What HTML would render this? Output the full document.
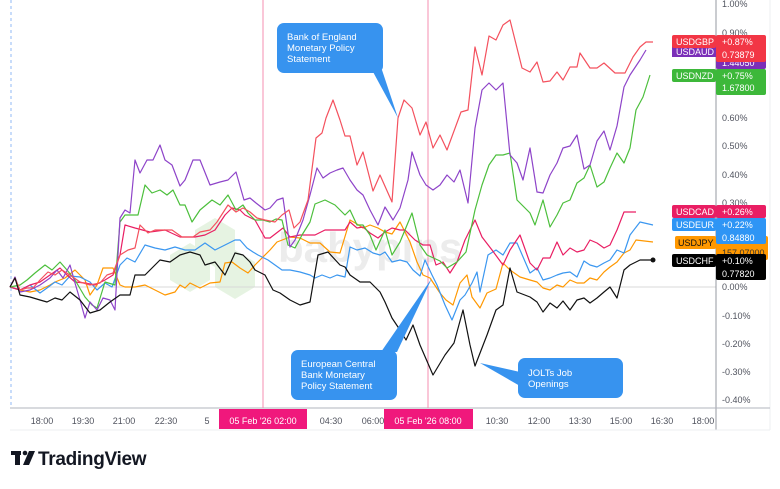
<!DOCTYPE html>
<html><head><meta charset="utf-8"><style>
body{margin:0;background:#fff;width:780px;height:484px;overflow:hidden;font-family:"Liberation Sans",sans-serif;}
svg text{font-family:"Liberation Sans",sans-serif;}
</style></head><body>
<svg width="780" height="484" viewBox="0 0 780 484" xmlns="http://www.w3.org/2000/svg">
<rect width="780" height="484" fill="#fff"/>
<g opacity="0.45">
<polygon points="195,230 215,218 235,230 235,255 215,267 195,255" fill="#c8e6c0"/>
<polygon points="170,255 190,243 210,255 210,280 190,292 170,280" fill="#c8e6c0"/>
<polygon points="215,262 235,250 255,262 255,287 235,299 215,287" fill="#c8e6c0"/>
</g>
<text x="278" y="262" font-size="42" font-weight="bold" fill="#ececec">babypips</text>
<line x1="10" y1="287" x2="716" y2="287" stroke="#d8d8d8" stroke-width="1"/>
<line x1="716" y1="0" x2="716" y2="430" stroke="#9598a1" stroke-width="1"/>
<line x1="770" y1="0" x2="770" y2="430" stroke="#eceff2" stroke-width="1"/>
<line x1="10" y1="408" x2="770" y2="408" stroke="#b2b5be" stroke-width="1"/>
<line x1="10" y1="430" x2="770" y2="430" stroke="#eceff2" stroke-width="1"/>
<line x1="11" y1="0" x2="11" y2="408" stroke="#4a8df0" stroke-width="1" stroke-dasharray="3,3" opacity="0.6"/>
<line x1="263" y1="0" x2="263" y2="408" stroke="#f48fb1" stroke-width="1"/>
<line x1="428" y1="0" x2="428" y2="408" stroke="#f48fb1" stroke-width="1"/>
<g font-size="9" fill="#50535e">
<text x="722" y="7">1.00%</text><text x="722" y="36">0.90%</text>
<text x="722" y="121">0.60%</text><text x="722" y="149">0.50%</text>
<text x="722" y="178">0.40%</text><text x="722" y="206">0.30%</text>
<text x="722" y="290">0.00%</text><text x="722" y="319">-0.10%</text>
<text x="722" y="347">-0.20%</text><text x="722" y="375">-0.30%</text>
<text x="722" y="403">-0.40%</text>
</g>
<g font-size="9" fill="#50535e" text-anchor="middle">
<text x="42" y="424">18:00</text><text x="83" y="424">19:30</text><text x="124" y="424">21:00</text>
<text x="166" y="424">22:30</text><text x="207" y="424">5</text>
<text x="331" y="424">04:30</text><text x="373" y="424">06:00</text>
<text x="497" y="424">10:30</text><text x="539" y="424">12:00</text><text x="580" y="424">13:30</text>
<text x="621" y="424">15:00</text><text x="662" y="424">16:30</text><text x="703" y="424">18:00</text>
</g>
<rect x="219" y="409" width="88" height="20" fill="#f0187c"/>
<text x="263" y="424" font-size="9" fill="#fff" text-anchor="middle">05 Feb '26   02:00</text>
<rect x="384" y="409" width="89" height="20" fill="#f0187c"/>
<text x="428" y="424" font-size="9" fill="#fff" text-anchor="middle">05 Feb '26   08:00</text>
<g fill="none" stroke-width="1.2" stroke-linejoin="round">
<polyline stroke="#ff9800" points="10,287 20,290 30,292 40,290 50,285 55,282 65,278 75,270 85,280 90,295 97,285 103,268 113,268 120,285 125,287 135,287 145,285 155,290 165,295 175,292 180,285 185,288 190,283 200,288 210,283 220,282 225,263 232,262 240,268 248,273 255,265 262,258 270,250 277,242 290,237 300,238 310,243 320,243 330,252 340,253 350,220 357,224 363,228 370,225 378,228 385,232 392,234 400,222 410,242 417,262 423,275 430,278 440,293 446,300 453,305 460,283 467,275 472,297 480,308 487,293 496,289 503,263 510,270 520,277 530,280 537,282 543,288 550,290 557,285 563,287 570,280 577,283 584,283 590,278 597,280 604,272 610,267 617,262 624,253 630,250 636,240 653,242"/>
<polyline stroke="#3b97f0" points="10,287 20,290 30,285 40,293 47,288 55,282 62,285 70,276 80,277 90,282 97,290 105,283 112,287 120,265 127,258 135,262 145,245 155,248 165,250 175,247 185,250 195,250 205,243 215,250 225,245 235,240 240,240 247,248 253,252 258,255 268,260 275,265 282,270 290,270 300,272 310,275 315,278 322,275 330,278 337,275 345,277 350,247 357,250 365,248 373,253 380,255 385,252 392,262 400,260 407,262 413,270 420,276 425,260 432,275 437,285 445,305 452,320 460,300 465,295 472,283 477,272 480,292 488,255 496,250 503,255 510,243 517,243 530,273 537,268 543,280 550,278 557,275 563,273 570,272 577,277 584,261 590,265 597,267 604,263 610,260 617,250 624,253 630,235 640,222 653,225"/>
<polyline stroke="#e91e63" points="10,287 20,290 30,285 40,282 50,275 60,268 67,275 75,282 85,283 95,285 105,280 113,275 120,255 125,225 135,228 150,232 165,230 180,237 195,237 205,235 215,230 225,215 232,208 240,210 245,215 255,220 265,238 270,238 283,228 290,237 300,235 315,235 325,230 335,230 345,230 350,222 357,228 363,227 370,233 378,238 385,232 392,228 400,230 405,230 415,240 423,245 430,245 436,265 443,262 450,273 457,262 465,240 475,220 482,237 492,250 503,265 510,250 520,235 530,263 537,270 543,258 550,258 557,242 563,255 570,248 577,252 584,250 590,240 597,243 604,248 610,245 617,230 624,212 636,212"/>
<polyline stroke="#4cbf3c" points="10,287 20,285 27,280 35,273 45,265 52,270 60,262 67,270 75,280 85,297 92,305 97,308 105,282 115,285 120,222 125,215 138,215 145,185 152,193 160,190 167,195 173,190 180,205 185,205 192,222 200,210 206,205 212,200 220,205 228,195 236,210 243,205 248,213 255,220 263,220 270,222 276,219 282,220 288,245 295,248 302,235 310,222 315,204 325,200 335,205 345,215 350,210 357,225 363,225 370,235 376,250 385,230 392,255 400,242 412,213 420,245 427,255 440,261 447,268 457,262 466,252 475,210 482,185 489,165 496,155 503,155 510,153 517,200 530,213 535,225 543,200 550,227 557,215 563,203 570,200 577,183 584,178 590,165 597,187 604,182 610,168 617,153 624,163 630,148 636,110 643,97 650,75"/>
<polyline stroke="#8e44c9" points="10,287 15,277 20,292 30,290 40,285 50,278 57,270 63,278 70,265 75,283 80,300 85,318 90,302 97,310 103,298 110,300 115,310 120,218 125,210 130,213 135,160 140,173 147,160 153,160 160,145 165,160 172,165 180,186 185,180 193,160 200,160 210,185 220,182 228,180 236,172 244,200 250,198 256,203 265,210 270,208 277,200 283,198 290,247 295,240 303,220 310,195 317,168 323,178 330,173 337,170 343,168 350,180 357,190 363,195 370,210 378,225 385,207 393,220 400,208 408,180 412,152 420,175 426,185 433,190 440,185 447,175 454,182 460,170 468,203 475,128 482,90 489,83 496,90 503,83 510,155 517,163 523,180 530,148 537,192 543,193 550,175 557,163 563,148 570,146 577,135 584,169 590,165 597,141 604,131 610,150 617,126 624,87 630,75 640,60 646,50"/>
<polyline stroke="#f4515e" points="10,287 15,278 20,290 27,288 33,288 40,280 48,272 55,275 62,270 70,275 80,282 90,285 100,283 107,275 113,273 120,255 128,250 135,248 140,225 148,233 155,230 163,230 172,230 182,237 193,237 200,232 210,230 217,222 228,205 236,212 243,208 250,212 257,218 265,220 275,222 282,215 289,210 294,228 300,222 308,200 316,138 322,133 326,118 333,100 340,120 345,136 350,136 357,165 363,152 373,191 380,175 392,202 398,118 404,100 412,108 420,135 426,122 433,148 440,135 447,150 461,112 468,110 475,47 482,75 489,36 496,40 503,25 510,20 522,68 530,72 537,62 543,82 550,81 557,72 563,80 570,67 577,67 580,53 590,68 597,68 604,63 615,73 625,73 633,57 640,47 646,42 653,42"/>
<polyline stroke="#111" points="10,287 15,278 20,295 30,297 40,300 47,302 55,298 62,300 70,292 80,300 90,313 100,310 110,302 120,295 130,295 135,275 145,275 160,260 170,262 180,255 190,252 200,255 205,265 215,262 225,275 235,253 243,255 250,262 255,270 265,275 273,290 280,293 290,300 300,305 310,302 318,255 328,252 340,265 345,267 350,275 360,282 370,282 380,292 385,302 392,318 400,330 406,340 413,325 420,345 433,375 445,355 454,343 463,310 470,345 475,366 487,335 496,310 503,305 510,268 517,292 530,297 537,302 543,312 550,303 557,308 563,301 570,310 577,300 584,298 590,303 597,298 604,292 610,287 617,298 624,270 630,265 640,260 653,260"/>
</g>
<circle cx="653" cy="260" r="2.5" fill="#111"/>
<g fill="#3793ef">
<rect x="277" y="23" width="106" height="50" rx="7"/>
<polygon points="372,70 382,70 398,118"/>
<rect x="291" y="350" width="106" height="50" rx="7"/>
<polygon points="381,352 397,352 432,278"/>
<rect x="518" y="358" width="105" height="40" rx="7"/>
<polygon points="520,372 520,386 480,363"/>
</g>
<g font-size="9.5" fill="#fff">
<text x="287" y="40">Bank of England</text><text x="287" y="51">Monetary Policy</text><text x="287" y="62">Statement</text>
<text x="301" y="367">European Central</text><text x="301" y="378">Bank Monetary</text><text x="301" y="389">Policy Statement</text>
<text x="528" y="376">JOLTs Job</text><text x="528" y="387">Openings</text>
</g>
<g font-size="9" fill="#fff">
<rect x="672" y="45" width="44" height="12" fill="#7b2fb8"/><rect x="716" y="45" width="50" height="24" rx="2" fill="#7b2fb8"/>
<text x="676" y="55">USDAUD</text><text x="722" y="66">1.44050</text>
<rect x="672" y="35" width="44" height="13" rx="2" fill="#f23645"/><rect x="716" y="35" width="50" height="27" rx="2" fill="#f23645"/>
<text x="676" y="45">USDGBP</text><text x="722" y="45">+0.87%</text><text x="722" y="58">0.73879</text>
<rect x="672" y="69" width="44" height="13" rx="2" fill="#3db83a"/><rect x="716" y="69" width="50" height="26" rx="2" fill="#3db83a"/>
<text x="676" y="79">USDNZD</text><text x="722" y="79">+0.75%</text><text x="722" y="91">1.67800</text>
<rect x="675" y="236" width="41" height="13" rx="2" fill="#ff9800"/><rect x="716" y="236" width="52" height="24" rx="2" fill="#ff9800"/>
<text x="678" y="246" fill="#111">USDJPY</text><text x="722" y="256" fill="#333">157.07000</text>
<rect x="672" y="205" width="44" height="13" rx="2" fill="#e91e63"/><rect x="716" y="205" width="50" height="13" rx="2" fill="#e91e63"/>
<text x="676" y="215">USDCAD</text><text x="722" y="215">+0.26%</text>
<rect x="672" y="218" width="44" height="13" rx="2" fill="#2e95f5"/><rect x="716" y="218" width="50" height="26" rx="2" fill="#2e95f5"/>
<text x="676" y="228">USDEUR</text><text x="722" y="228">+0.22%</text><text x="722" y="241">0.84880</text>
<rect x="672" y="254" width="44" height="13" rx="2" fill="#000"/><rect x="716" y="254" width="50" height="26" rx="2" fill="#000"/>
<text x="676" y="264">USDCHF</text><text x="722" y="264">+0.10%</text><text x="722" y="277">0.77820</text>
</g>
<g fill="#131722">
<rect x="11" y="451" width="10" height="4"/><rect x="15" y="451" width="5" height="14"/>
<circle cx="25" cy="453" r="2.3"/>
<polygon points="29,451 35,451 29,465 23,465"/>
</g>
<text x="38" y="465" font-size="19" font-weight="bold" fill="#131722" letter-spacing="-0.3">TradingView</text>
</svg>
</body></html>
